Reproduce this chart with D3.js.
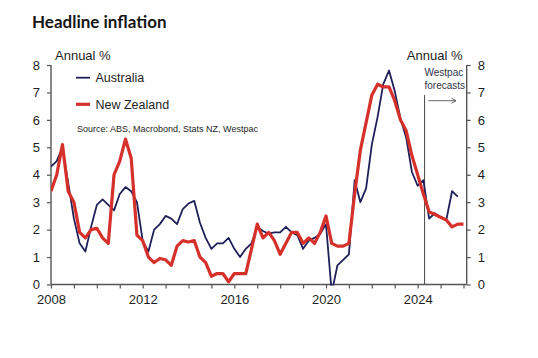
<!DOCTYPE html>
<html>
<head>
<meta charset="utf-8">
<script src="https://cdn.jsdelivr.net/npm/d3@7"></script>
<style>
  html, body { margin: 0; padding: 0; background: #fff; }
  svg { display: block; }
  text { font-family: "Liberation Sans", Arial, sans-serif; fill: #1e1e1e; }
</style>
</head>
<body>
<svg id="chart" width="538" height="358"></svg>
<script>
// ---- Data (quarterly, annual % change) ----
const startYear = 2008;           // first quarter = 2008 Q1
const australia = [
  4.3, 4.5, 5.0, 3.7,
  2.4, 1.5, 1.2, 2.1,
  2.9, 3.1, 2.9, 2.7,
  3.3, 3.55, 3.4, 3.0,
  1.6, 1.2, 2.0, 2.2,
  2.5, 2.4, 2.2, 2.75,
  2.95, 3.05, 2.25, 1.7,
  1.3, 1.5, 1.5, 1.7,
  1.3, 1.0, 1.3, 1.5,
  2.1, 1.95, 1.85, 1.9,
  1.9, 2.1, 1.9, 1.8,
  1.3, 1.6, 1.7, 1.85,
  2.2, -0.3, 0.7, 0.9,
  1.1, 3.8, 3.0, 3.5,
  5.1, 6.1, 7.3, 7.8,
  7.05, 6.05, 5.35, 4.1,
  3.6, 3.8, 2.4, 2.6,
  2.45, 2.35, 3.4, 3.2
];
const newZealand = [
  3.4, 4.0, 5.1, 3.4,
  3.0, 1.9, 1.7, 2.0,
  2.05, 1.7, 1.5, 4.0,
  4.5, 5.3, 4.6, 1.8,
  1.6, 1.0, 0.8, 0.95,
  0.9, 0.7, 1.4, 1.6,
  1.55, 1.6, 1.0, 0.8,
  0.3, 0.4, 0.4, 0.1,
  0.4, 0.4, 0.4, 1.3,
  2.2, 1.7, 1.9, 1.6,
  1.1, 1.5, 1.9, 1.9,
  1.5, 1.7, 1.5, 1.9,
  2.5, 1.5, 1.4, 1.4,
  1.5, 3.3, 4.9, 5.9,
  6.9, 7.3, 7.2, 7.2,
  6.7, 6.0, 5.6, 4.7,
  4.0, 3.3, 2.65, 2.55,
  2.45, 2.35, 2.1, 2.2,
  2.2
];
const forecastStart = 2024.3;     // Westpac forecasts begin
const yTicks = [0, 1, 2, 3, 4, 5, 6, 7, 8];
const xTickYears = d3.range(2008, 2027);
const xLabelYears = [2008, 2012, 2016, 2020, 2024];
const seriesNames = ["Australia", "New Zealand"];
const seriesColors = ["#1f1f5a", "#d5302a"];

// ---- Layout ----
const svg = d3.select("#chart");
const plotLeft = 51, plotRight = 466.7, plotTop = 65, plotBottom = 284.5;

const x = d3.scaleLinear().domain([2008, 2026.14]).range([plotLeft, plotRight]);
const y = d3.scaleLinear().domain([0, 8]).range([plotBottom, plotTop]);

const toPoints = vals => vals.map((v, i) => ({ t: startYear + i / 4, v }));

// clip
svg.append("defs").append("clipPath").attr("id", "plotclip")
  .append("rect").attr("x", plotLeft).attr("y", plotTop - 5)
  .attr("width", plotRight - plotLeft).attr("height", plotBottom - plotTop + 6);

// Title
svg.append("text").attr("x", 32).attr("y", 28)
  .style("font-family", "Lato, 'Liberation Sans', sans-serif")
  .style("font-weight", 700).style("font-size", "17px")
  .style("fill", "#161616")
  .text("Headline inflation");

// Axis titles
svg.append("text").attr("x", 55).attr("y", 60).style("font-size", "13px").text("Annual %");
svg.append("text").attr("x", 462.5).attr("y", 60).attr("text-anchor", "end")
  .style("font-size", "13px").text("Annual %");

// Axes
const axisColor = "#555";
const yLeft = svg.append("g").attr("transform", `translate(${plotLeft},0)`)
  .call(d3.axisLeft(y).tickValues(yTicks).tickSize(4).tickPadding(7).tickFormat(d3.format("d")));
const yRight = svg.append("g").attr("transform", `translate(${plotRight},0)`)
  .call(d3.axisRight(y).tickValues(yTicks).tickSize(4).tickPadding(7).tickFormat(d3.format("d")));
const xAxis = svg.append("g").attr("transform", `translate(0,${plotBottom})`)
  .call(d3.axisBottom(x).tickValues(xTickYears).tickSize(4).tickPadding(6)
    .tickFormat(d => xLabelYears.includes(d) ? String(d) : ""));

[yLeft, yRight, xAxis].forEach(g => {
  g.select(".domain").attr("stroke", axisColor).attr("stroke-width", 1.4);
  g.selectAll(".tick line").attr("stroke", axisColor).attr("stroke-width", 1.2);
  g.selectAll(".tick text").style("font-size", "13px").style("font-family", "'Liberation Sans', Arial, sans-serif").attr("fill", "#1e1e1e");
});
yLeft.select(".domain").attr("d", `M0,${plotTop}V${plotBottom}`);
yRight.select(".domain").attr("d", `M0,${plotTop}V${plotBottom}`);
xAxis.select(".domain").attr("d", `M${plotLeft},0H${plotRight}`);

// Forecast marker
svg.append("line")
  .attr("x1", x(forecastStart)).attr("x2", x(forecastStart))
  .attr("y1", 95).attr("y2", plotBottom)
  .attr("stroke", "#555").attr("stroke-width", 1.1);
svg.append("text").attr("x", 424.5).attr("y", 76).style("font-size", "10px").style("fill", "#2f3447").text("Westpac");
svg.append("text").attr("x", 424.5).attr("y", 88.5).style("font-size", "10px").style("fill", "#2f3447").text("forecasts");
svg.append("line").attr("x1", 428.5).attr("x2", 456).attr("y1", 100.7).attr("y2", 100.7)
  .attr("stroke", "#555").attr("stroke-width", 0.9);
svg.append("path").attr("d", "M451.5,98.2L456,100.7L451.5,103.2")
  .attr("fill", "none").attr("stroke", "#555").attr("stroke-width", 0.9);

// Lines
const line = d3.line().x(d => x(d.t)).y(d => y(d.v));
const plot = svg.append("g").attr("clip-path", "url(#plotclip)");
plot.append("path").datum(toPoints(australia))
  .attr("d", line).attr("fill", "none")
  .attr("stroke", seriesColors[0]).attr("stroke-width", 1.8).attr("stroke-linejoin", "round");
plot.append("path").datum(toPoints(newZealand))
  .attr("d", line).attr("fill", "none")
  .attr("stroke", seriesColors[1]).attr("stroke-width", 3.2).attr("stroke-linejoin", "round");

// Legend
const legendY = [77.7, 104.3];
const legendW = [1.8, 3.2];
seriesNames.forEach((name, i) => {
  svg.append("line").attr("x1", 76).attr("x2", 90).attr("y1", legendY[i]).attr("y2", legendY[i])
    .attr("stroke", seriesColors[i]).attr("stroke-width", legendW[i]);
  svg.append("text").attr("x", 95.5).attr("y", legendY[i] + 4.3)
    .style("font-size", "12.5px").text(name);
});
svg.append("text").attr("x", 77).attr("y", 131.5).style("font-size", "9px")
  .text("Source: ABS, Macrobond, Stats NZ, Westpac");
</script>
</body>
</html>
